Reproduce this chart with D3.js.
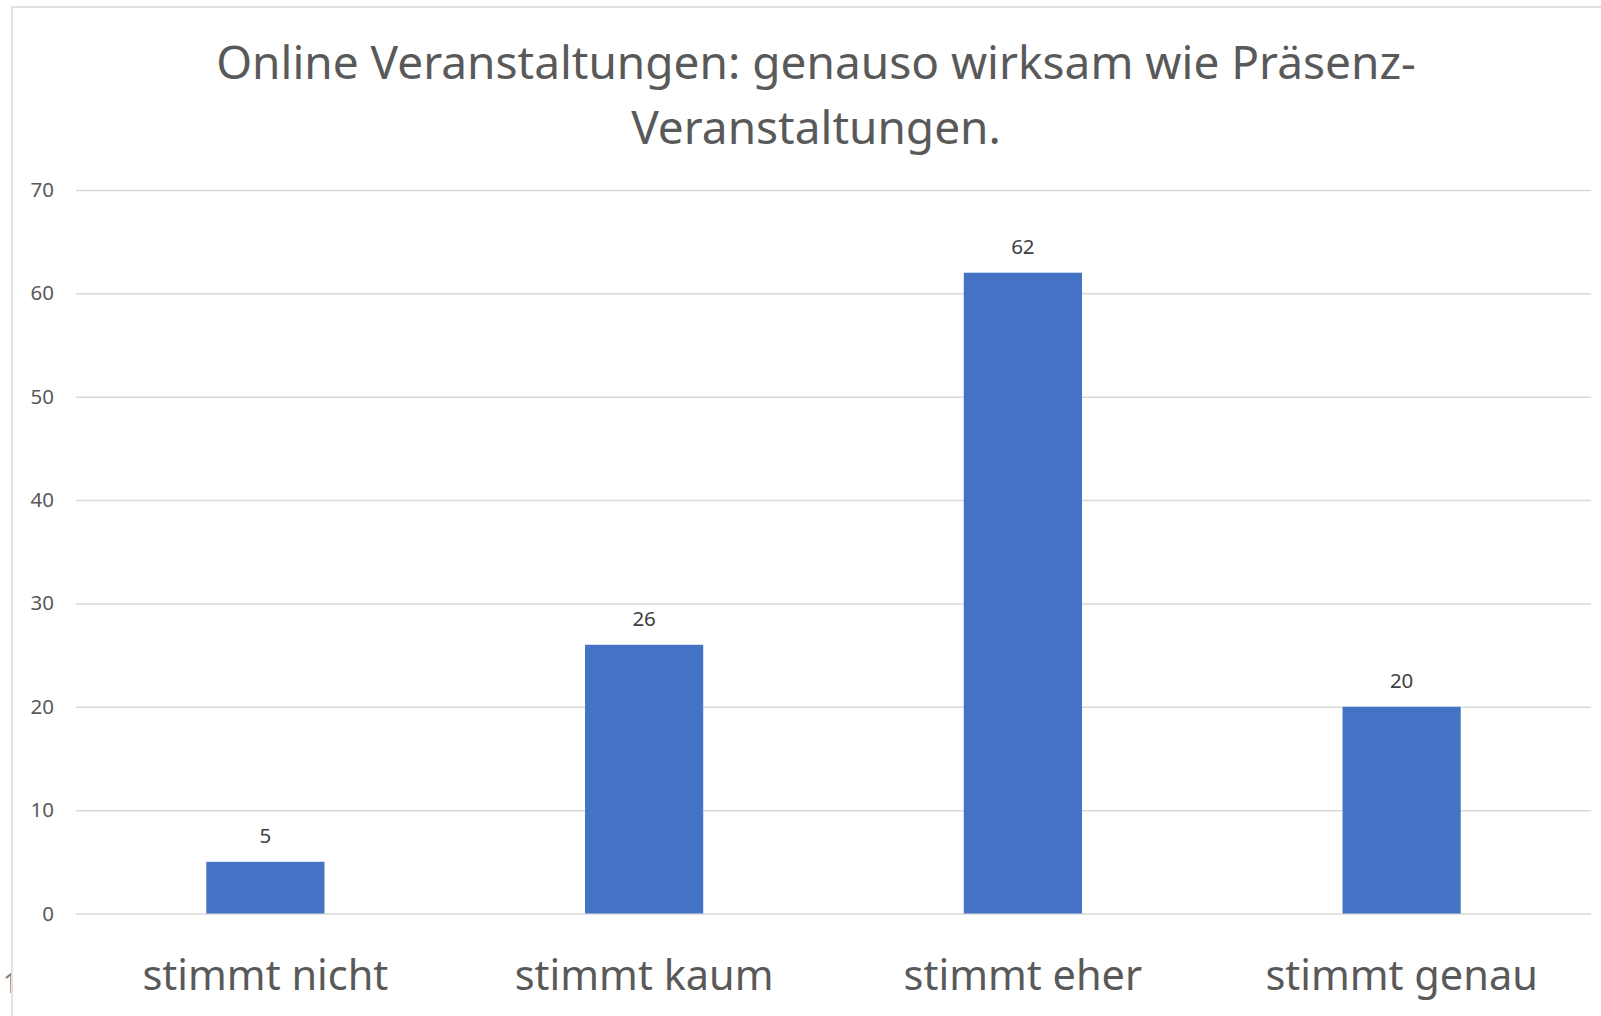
<!DOCTYPE html>
<html>
<head>
<meta charset="utf-8">
<script src="https://cdn.jsdelivr.net/npm/d3@7"></script>
<style>
  body { margin: 0; background: #fff; }
  svg { display: block; font-family: "Noto Sans", "Open Sans", sans-serif; }
</style>
</head>
<body>
<div id="chart"></div>
<script>
// Data
const categories = ['stimmt nicht', 'stimmt kaum', 'stimmt eher', 'stimmt genau']
const values = [5, 26, 62, 20]
const yTicks = [0, 10, 20, 30, 40, 50, 60, 70]
const titleLines = ['Online Veranstaltungen: genauso wirksam wie Präsenz-', 'Veranstaltungen.']

function draw() {
  const dataset = categories.map((c, i) => ({ cat: c, val: values[i] }))

  let dimensions = {
    width: 1601,
    height: 1016,
    left: 76,
    right: 1591,
    top: 190,
    bottom: 913.5,
  }

  const svg = d3.select('#chart')
    .append('svg')
    .attr('width', dimensions.width)
    .attr('height', dimensions.height)

  // clip for the stray glyph left of the frame
  svg.append('clipPath')
    .attr('id', 'leftClip')
    .append('rect')
    .attr('x', 0).attr('y', 0)
    .attr('width', 11).attr('height', dimensions.height)

  svg.append('text')
    .attr('clip-path', 'url(#leftClip)')
    .attr('x', 3)
    .attr('y', 993)
    .attr('font-size', 27)
    .attr('fill', '#808080')
    .text('1')

  // chart frame
  svg.append('rect')
    .attr('x', 12)
    .attr('y', 7)
    .attr('width', 1620)
    .attr('height', 1040)
    .attr('fill', 'none')
    .attr('stroke', '#d9d9d9')
    .attr('stroke-width', 1.5)

  // Title
  svg.append('g')
    .selectAll('text')
    .data(titleLines)
    .join('text')
    .attr('x', 816)
    .attr('y', (d, i) => 79 + i * 64.5)
    .attr('text-anchor', 'middle')
    .attr('font-size', 46)
    .attr('fill', '#595959')
    .text(d => d)

  // Scales
  const xScale = d3.scaleBand()
    .domain(categories)
    .range([dimensions.left, dimensions.right])
    .paddingInner(0.688)
    .paddingOuter(0.344)

  const yScale = d3.scaleLinear()
    .domain([0, 70])
    .range([dimensions.bottom, dimensions.top])

  // Gridlines + y labels
  const yAxis = d3.axisLeft(yScale)
    .tickValues(yTicks)
    .tickSize(-(dimensions.right - dimensions.left))
    .tickPadding(22)

  const yAxisGroup = svg.append('g')
    .attr('transform', `translate(${dimensions.left}, 0)`)
    .call(yAxis)

  yAxisGroup.select('.domain').remove()
  yAxisGroup.selectAll('.tick line')
    .attr('stroke', '#d9d9d9')
    .attr('stroke-width', 1.5)
  yAxisGroup.selectAll('.tick text')
    .attr('font-size', 20.5)
    .attr('fill', '#595959')
    .attr('font-family', '"Noto Sans", sans-serif')

  // Bars
  svg.append('g')
    .selectAll('rect')
    .data(dataset)
    .join('rect')
    .attr('x', d => xScale(d.cat))
    .attr('y', d => yScale(d.val))
    .attr('width', xScale.bandwidth())
    .attr('height', d => yScale(0) - yScale(d.val))
    .attr('fill', '#4472c4')

  // Value labels
  svg.append('g')
    .selectAll('text')
    .data(dataset)
    .join('text')
    .attr('x', d => xScale(d.cat) + xScale.bandwidth() / 2)
    .attr('y', d => yScale(d.val) - 19)
    .attr('text-anchor', 'middle')
    .attr('font-size', 20.5)
    .attr('fill', '#404040')
    .text(d => d.val)

  // Category labels
  const xAxis = d3.axisBottom(xScale)
    .tickSize(0)
    .tickPadding(47)

  const xAxisGroup = svg.append('g')
    .attr('transform', `translate(0, ${dimensions.bottom})`)
    .call(xAxis)

  xAxisGroup.select('.domain').remove()
  xAxisGroup.selectAll('.tick text')
    .attr('font-size', 41.5)
    .attr('fill', '#595959')
    .attr('font-family', '"Noto Sans", sans-serif')
}

draw()
</script>
</body>
</html>
